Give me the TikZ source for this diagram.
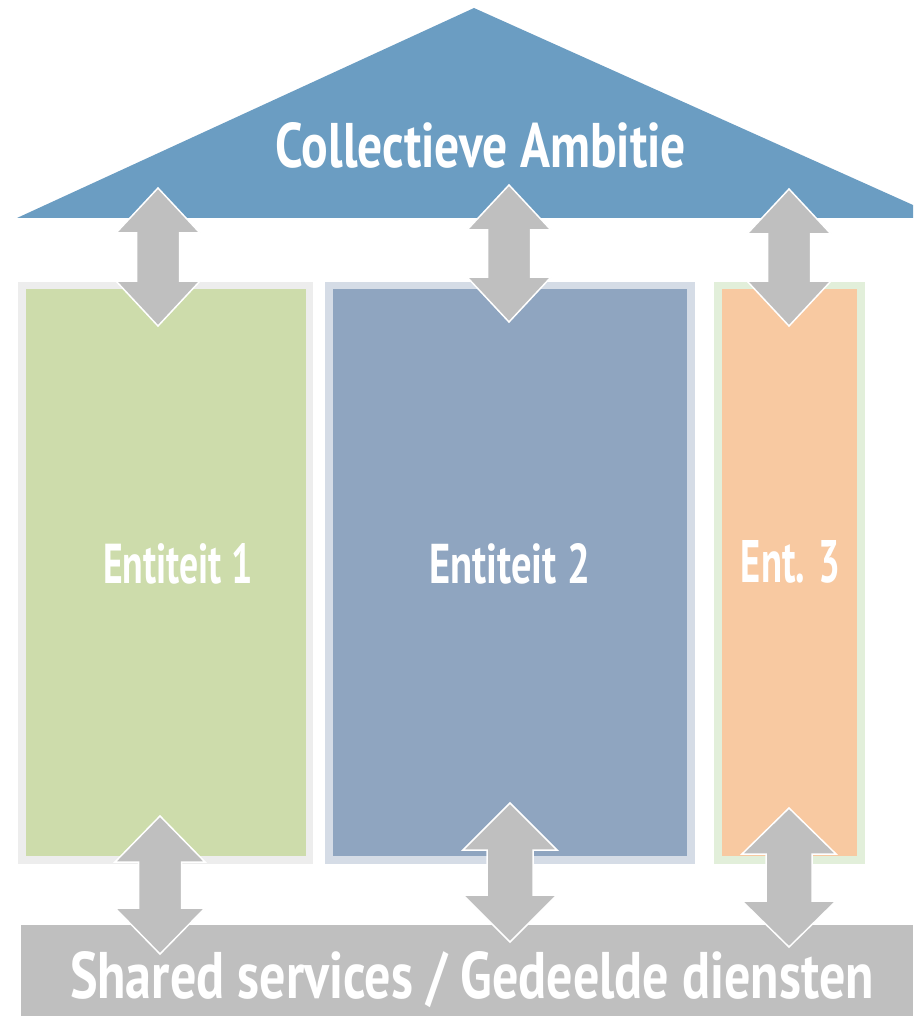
\documentclass[tikz,border=0pt]{standalone}
\usepackage{fontspec}
\setmainfont{PT Sans}
\usepackage{graphicx}
\usepackage{xcolor}

\definecolor{roofblue}{HTML}{6B9DC2}
\definecolor{linkgrey}{HTML}{BFBFBF}
\definecolor{greenpart}{HTML}{CDDCAB}
\definecolor{greenedge}{HTML}{EDEDED}
\definecolor{bluepart}{HTML}{8FA5C0}
\definecolor{blueedge}{HTML}{D5DCE6}
\definecolor{orangepart}{HTML}{F8C9A1}
\definecolor{orangeedge}{HTML}{E2EFDA}

\newcommand{\squeeze}[3]{\resizebox{#1pt}{#2pt}{#3}}

\tikzset{
  lbl/.style={text=white, inner sep=0pt, anchor=base, font=\bfseries},
  link/.style={fill=linkgrey, draw=white, line width=1.5pt, line join=miter},
}

\begin{document}
\begin{tikzpicture}[x=1pt,y=-1pt]
   \useasboundingbox (0,0) rectangle (913,1016);
   % dak
   \fill[roofblue] (17,218) -- (474,8) -- (913,205) -- (913,218) -- cycle;
   \node[lbl] (ambitie) at (481,168) {\squeeze{410}{45}{Collectieve Ambitie}};
   % pijlers
   \draw[greenedge, line width=7.5pt, fill=greenpart] (22,285.5) rectangle (309.5,860);
   \draw[blueedge, line width=7.5pt, fill=bluepart] (329,285.5) rectangle (691,860);
   \draw[orangeedge, line width=7.5pt, fill=orangepart] (718,285.5) rectangle (861,860);
   \node[lbl] (ent1) at (178,583) {\squeeze{150}{40}{Entiteit 1}};
   \node[lbl] (ent2) at (509.5,583) {\squeeze{161}{40}{Entiteit 2}};
   \node[lbl] (ent3) at (790.5,582) {\squeeze{99}{42}{Ent. 3}};
   % fundament
   \fill[linkgrey] (21,925) rectangle (913,1016);
   \node[lbl] (shared) at (472,998) {\squeeze{804}{47}{Shared services / Gedeelde diensten}};
   % pijlen
   \foreach \x/\t/\b/\h/\s/\l in {158/188/326/42/21.5/45, 509/185/322/42/21.5/45, 789/189/326/42/21.5/45,
                                  160/816/954/45/21.5/46, 510/803/942/47/23/47, 789/808/947/47/23/46}
      \draw[link] (\x,\t) -- ({\x+\h},{\t+\l}) -- ({\x+\s},{\t+\l}) -- ({\x+\s},{\b-\l})
         -- ({\x+\h},{\b-\l}) -- (\x,\b) -- ({\x-\h},{\b-\l}) -- ({\x-\s},{\b-\l})
         -- ({\x-\s},{\t+\l}) -- ({\x-\h},{\t+\l}) -- cycle;
\end{tikzpicture}
\end{document}
